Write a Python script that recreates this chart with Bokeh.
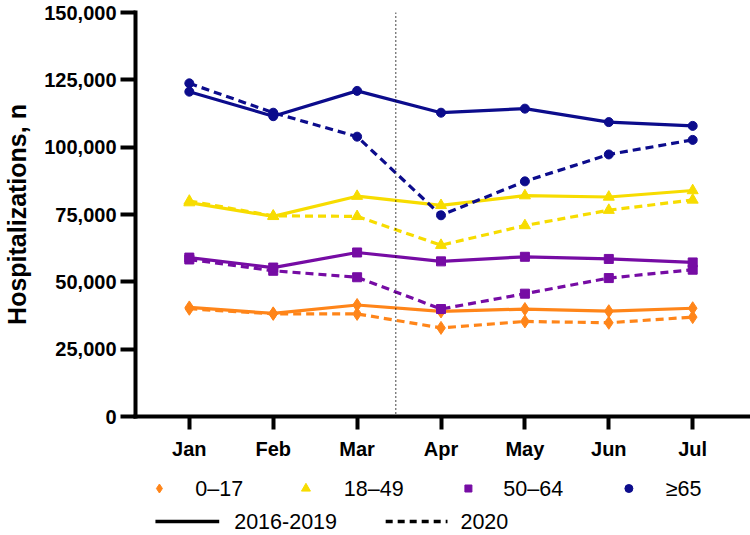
from bokeh.plotting import figure
from bokeh.models import Range1d, Span, FixedTicker, NumeralTickFormatter
from bokeh.layouts import column
from bokeh.embed import file_html
from bokeh.resources import INLINE
from bokeh.core.properties import value

# ---------------- data ----------------
months = ["Jan", "Feb", "Mar", "Apr", "May", "Jun", "Jul"]
age_groups = ["0–17", "18–49", "50–64", "≥65"]
period_labels = ["2016-2019", "2020"]

base_0_17 = [40500, 38300, 41400, 39000, 39900, 39100, 40200]
y2020_0_17 = [40000, 38100, 38100, 32900, 35300, 34800, 36900]

base_18_49 = [79400, 74300, 81800, 78400, 82000, 81500, 83900]
y2020_18_49 = [80000, 74500, 74300, 63600, 70900, 76600, 80400]

base_50_64 = [59000, 55300, 60900, 57600, 59300, 58500, 57200]
y2020_50_64 = [58300, 54100, 51700, 39900, 45600, 51400, 54500]

base_65 = [120600, 111500, 120900, 112800, 114300, 109300, 107900]
y2020_65 = [123700, 112800, 103900, 74700, 87300, 97300, 102700]

y_ticks = [0, 25000, 50000, 75000, 100000, 125000, 150000]

# ---------------- styles ----------------
colors = ["#FF8519", "#F7DC00", "#760CA4", "#0C0C8C"]
markers = ["diamond", "triangle", "square", "circle"]
msizes = [13, 11, 9, 9]
leg_sizes = [9, 9, 7, 8]
FONT = "Liberation Sans"

W = 750
FRAME_L = 133
MAIN_H = 462
LEG_H = 73

xs = list(range(len(months)))

p = figure(width=W, height=MAIN_H, output_backend="svg", toolbar_location=None,
           x_range=Range1d(-0.6416, 6.689), y_range=Range1d(0, 150000),
           min_border_left=FRAME_L, min_border_right=0, min_border_top=12,
           min_border_bottom=44)
p.outline_line_color = None
p.grid.visible = False
p.background_fill_color = "white"

series = [(base_0_17, y2020_0_17), (base_18_49, y2020_18_49),
          (base_50_64, y2020_50_64), (base_65, y2020_65)]

for (base, cur), c, m, s in zip(series, colors, markers, msizes):
    p.line(xs, cur, line_color=c, line_width=3.2, line_dash="8 5")
    p.scatter(xs, cur, marker=m, size=s, fill_color=c, line_color=c)
    p.line(xs, base, line_color=c, line_width=3.2)
    p.scatter(xs, base, marker=m, size=s, fill_color=c, line_color=c)

p.add_layout(Span(location=2.46, dimension="height", line_color="black",
                  line_width=1.5, line_dash="1 3"))

# axes
xa = p.xaxis[0]
xa.ticker = FixedTicker(ticks=xs)
xa.major_label_overrides = {i: m for i, m in enumerate(months)}
ya = p.yaxis[0]
ya.ticker = FixedTicker(ticks=y_ticks)
ya.formatter = NumeralTickFormatter(format="0,0")
ya.axis_label = "Hospitalizations, n"
ya.axis_label_text_font = FONT
ya.axis_label_text_font_style = "bold"
ya.axis_label_text_font_size = "25px"
ya.axis_label_text_color = "black"
ya.axis_label_standoff = 10
ya.major_tick_out = 15
xa.major_tick_out = 13
for ax in (xa, ya):
    ax.axis_line_width = 4
    ax.axis_line_color = "black"
    ax.axis_line_cap = "square"
    ax.major_tick_line_width = 4
    ax.major_tick_line_color = "black"
    ax.major_tick_in = 0
    ax.minor_tick_line_color = None
    ax.major_label_text_font = FONT
    ax.major_label_text_font_style = "bold"
    ax.major_label_text_font_size = "20px"
    ax.major_label_text_color = "black"
ya.major_label_standoff = 4
xa.major_label_standoff = 8

# ---------------- legend figure (page-pixel coordinates) ----------------
lg = figure(width=W, height=LEG_H, output_backend="svg", toolbar_location=None,
            x_range=Range1d(FRAME_L, W), y_range=Range1d(MAIN_H + LEG_H, MAIN_H),
            x_axis_type=None, y_axis_type=None,
            min_border_left=FRAME_L, min_border_right=0,
            min_border_top=0, min_border_bottom=0)
lg.outline_line_color = None
lg.grid.visible = False

row1_y = 488
row2_y = 521
mk_x = [157, 304, 467, 628]
tx_x = [193, 342, 502, 665]
txt_style = dict(text_font=value(FONT), text_font_size="21.5px",
                 text_baseline="middle", text_align="left", text_color="black")
for label, c, m, s, mx, tx in zip(age_groups, colors, markers, leg_sizes, mk_x, tx_x):
    lg.scatter([mx], [row1_y], marker=m, size=s, fill_color=c, line_color=c)
    lg.text([tx], [row1_y], text=[label], **txt_style)

lg.line([153, 217], [row2_y, row2_y], line_color="black", line_width=3.5)
lg.text([232], [row2_y], text=[period_labels[0]], **txt_style)
lg.line([384, 446], [row2_y, row2_y], line_color="black", line_width=3.5,
        line_dash="7 5")
lg.text([459], [row2_y], text=[period_labels[1]], **txt_style)

layout = column(p, lg, spacing=0)
open("out.html", "w").write(file_html(layout, INLINE))
